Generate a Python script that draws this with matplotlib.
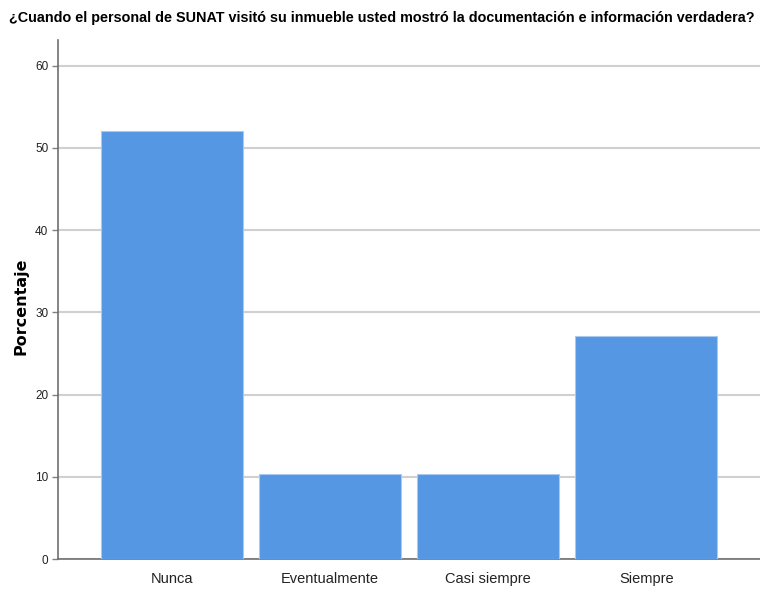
import numpy as np
import matplotlib.pyplot as plt

categorias = ["Nunca", "Eventualmente", "Casi siempre", "Siempre"]
porcentajes = [52.1, 10.4, 10.4, 27.1]
yticks = [0, 10, 20, 30, 40, 50, 60]

titulo = "¿Cuando el personal de SUNAT visitó su inmueble usted mostró la documentación e información verdadera?"
fuente = ["Liberation Sans", "DejaVu Sans"]

if __name__ == "__main__":
    plt.rcParams['font.family'] = fuente
    fig = plt.figure(figsize=(7.6, 5.92), dpi=100)
    ax = fig.add_axes([0.0763, 0.0557, 0.9237, 0.8763])

    x = np.arange(len(categorias))
    ax.bar(x, porcentajes, width=0.9, color="#5597e3", edgecolor="#a9c9f0",
           linewidth=0.8, zorder=3)

    ax.set_xlim(-0.72, 3.72)
    ax.set_ylim(0, 63.1)
    ax.set_yticks(yticks)
    ax.set_xticks(x)
    ax.set_xticklabels(categorias, fontsize=10.5, color="#222222")
    ax.tick_params(axis='x', length=0, pad=9)
    ax.tick_params(axis='y', length=4, width=1, color="#808080", labelsize=8.5,
                   labelcolor="#222222", pad=3)

    ax.grid(axis='y', color="#d0d0d0", linewidth=1.5, zorder=0)
    for s in ["top", "right"]:
        ax.spines[s].set_visible(False)
    for s in ["left", "bottom"]:
        ax.spines[s].set_color("#707070")
        ax.spines[s].set_linewidth(1.2)

    # y label placed by hand, the axes start close to the left edge
    fig.text(21 / 760, 1 - 306 / 592, "Porcentaje", rotation=90, ha="center",
             va="center", fontsize=11.5, fontweight="bold", family="DejaVu Sans")
    fig.text(382 / 760, 1 - 18 / 592, titulo, ha="center", va="center",
             fontsize=10.4, fontweight="bold")

    fig.savefig('out.png', dpi=100)
